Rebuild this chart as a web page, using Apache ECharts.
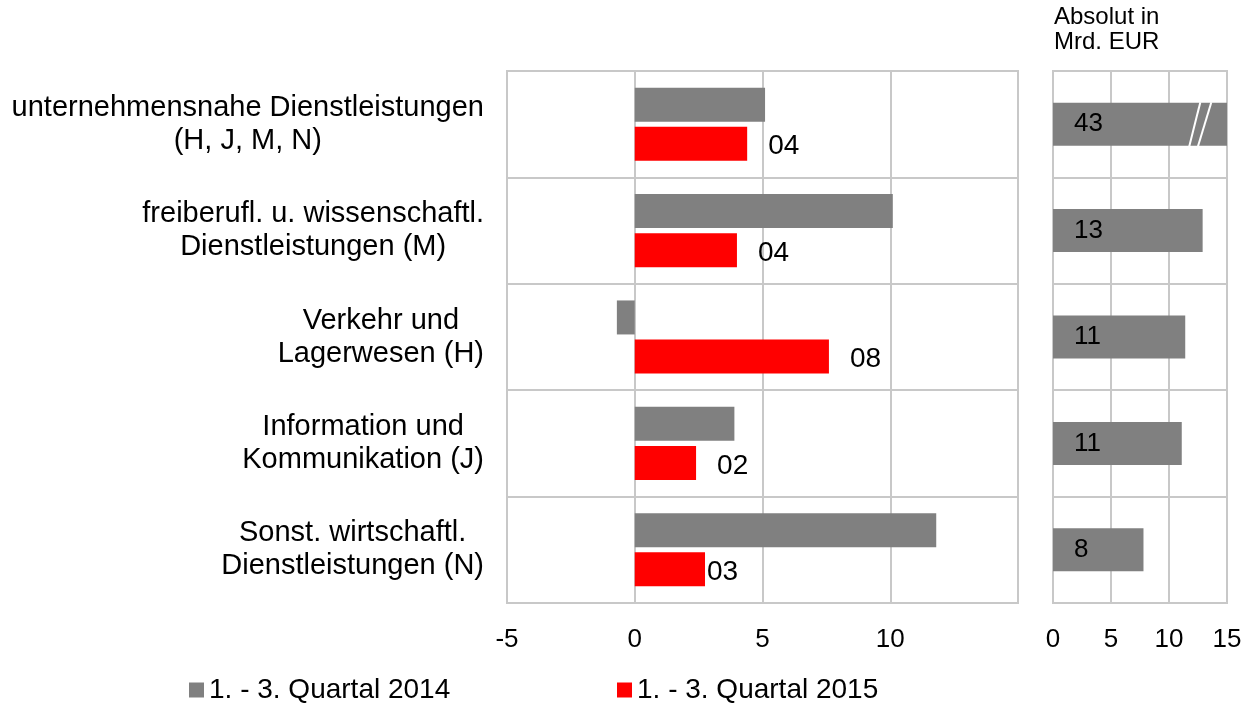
<!DOCTYPE html>
<html>
<head>
<meta charset="utf-8">
<script src="https://cdn.jsdelivr.net/npm/echarts@6/dist/echarts.min.js"></script>
<style>
  html, body { margin: 0; padding: 0; background: #fff; }
  #main { width: 1256px; height: 703px; }
</style>
</head>
<body>
<div id="main"></div>
<script>
// Kategorien (von oben nach unten)
var categories = [
  'unternehmensnahe Dienstleistungen\n(H, J, M, N)',
  'freiberufl. u. wissenschaftl.\nDienstleistungen (M)',
  'Verkehr und\nLagerwesen (H)',
  'Information und\nKommunikation (J)',
  'Sonst. wirtschaftl.\nDienstleistungen (N)'
];
var seriesNames = ['1. - 3. Quartal 2014', '1. - 3. Quartal 2015'];
var q2014 = [5.1, 10.1, -0.7, 3.9, 11.8];
var q2015 = [4.4, 4.0, 7.6, 2.4, 2.75];
// Absolut in Mrd. EUR
var absolut = [43, 12.9, 11.4, 11.1, 7.8];

var FONT = '"Liberation Sans", Arial, sans-serif';
var GRIDCOL = '#c8c8c8';

var myChart = echarts.init(document.getElementById('main'));

var option = {
  animation: false,
  title: {
    text: 'Absolut in\nMrd. EUR',
    left: 1049,
    top: 0,
    textStyle: { fontFamily: FONT, fontSize: 24, fontWeight: 'normal', color: '#000', lineHeight: 25 }
  },
  legend: [{
    data: [seriesNames[0]],
    left: 184,
    top: 671,
    icon: 'rect',
    itemWidth: 15,
    itemHeight: 15,
    textStyle: { fontFamily: FONT, fontSize: 28, color: '#000', padding: [0, 0, 0, 0] }
  }, {
    data: [seriesNames[1]],
    left: 612,
    top: 671,
    icon: 'rect',
    itemWidth: 15,
    itemHeight: 15,
    textStyle: { fontFamily: FONT, fontSize: 28, color: '#000', padding: [0, 0, 0, 0] }
  }],
  grid: [
    { left: 507, right: 238, top: 71, bottom: 100, show: true, borderColor: GRIDCOL, borderWidth: 2 },
    { left: 1053, right: 29, top: 71, bottom: 100, show: true, borderColor: GRIDCOL, borderWidth: 2 }
  ],
  xAxis: [{
    gridIndex: 0,
    type: 'value',
    min: -5,
    max: 15,
    interval: 5,
    axisLine: { show: false },
    axisTick: { show: false },
    splitLine: { lineStyle: { color: GRIDCOL, width: 2 } },
    axisLabel: { showMaxLabel: false, margin: 24, fontFamily: FONT, fontSize: 26, lineHeight: 26, color: '#000' }
  }, {
    gridIndex: 1,
    type: 'value',
    min: 0,
    max: 15,
    interval: 5,
    axisLine: { show: false },
    axisTick: { show: false },
    splitLine: { lineStyle: { color: GRIDCOL, width: 2 } },
    axisLabel: { margin: 24, fontFamily: FONT, fontSize: 26, lineHeight: 26, color: '#000' }
  }],
  yAxis: [{
    gridIndex: 0,
    type: 'category',
    inverse: true,
    data: categories,
    axisLine: { show: false },
    axisTick: { show: false },
    splitLine: { show: true, lineStyle: { color: GRIDCOL, width: 2 } },
    axisLabel: {
      margin: 23,
      align: 'right',
      formatter: function (val) {
        return val.split('\n').map(function (l) { return '{c|' + l + '}'; }).join('\n');
      },
      rich: {
        c: { align: 'center', fontFamily: FONT, fontSize: 29, lineHeight: 33, color: '#000' }
      }
    }
  }, {
    gridIndex: 1,
    type: 'category',
    inverse: true,
    data: categories,
    axisLine: { show: false },
    axisTick: { show: false },
    axisLabel: { show: false },
    splitLine: { show: true, lineStyle: { color: GRIDCOL, width: 2 } }
  }],
  series: [{
    name: seriesNames[0],
    type: 'bar',
    xAxisIndex: 0,
    yAxisIndex: 0,
    barWidth: 34,
    barGap: '15%',
    itemStyle: { color: '#808080' },
    data: q2014
  }, {
    name: seriesNames[1],
    type: 'bar',
    xAxisIndex: 0,
    yAxisIndex: 0,
    barWidth: 34,
    barGap: '15%',
    itemStyle: { color: '#ff0000' },
    label: {
      show: true,
      position: 'right',
      distance: 21,
      offset: [0, 3],
      fontFamily: FONT,
      fontSize: 28,
      color: '#000',
      formatter: function (p) { return '0' + Math.round(p.value); }
    },
    data: q2015.map(function (v, i) {
      return i === 4 ? { value: v, label: { distance: 2 } } : v;
    })
  }, {
    name: 'Absolut',
    type: 'bar',
    xAxisIndex: 1,
    yAxisIndex: 1,
    barWidth: 43,
    clip: true,
    itemStyle: { color: '#808080' },
    label: {
      show: true,
      position: 'insideLeft',
      distance: 21,
      fontFamily: FONT,
      fontSize: 26,
      color: '#000',
      formatter: function (p) { return Math.round(p.value); }
    },
    data: absolut
  }]
};
myChart.setOption(option);

// Achsenbruch-Markierung auf dem abgeschnittenen Balken (43)
var yc = myChart.convertToPixel({ gridIndex: 1 }, [0, categories[0]])[1];
var half = 22;
function breakLine(xb, xt) {
  var b = myChart.convertToPixel({ gridIndex: 1 }, [xb, categories[0]])[0];
  var t = myChart.convertToPixel({ gridIndex: 1 }, [xt, categories[0]])[0];
  return {
    type: 'line',
    shape: { x1: b, y1: yc + half, x2: t, y2: yc - half },
    style: { stroke: '#fff', lineWidth: 2 },
    z: 100
  };
}
myChart.setOption({
  graphic: [breakLine(11.75, 12.7), breakLine(12.5, 13.65)]
});
</script>
</body>
</html>
